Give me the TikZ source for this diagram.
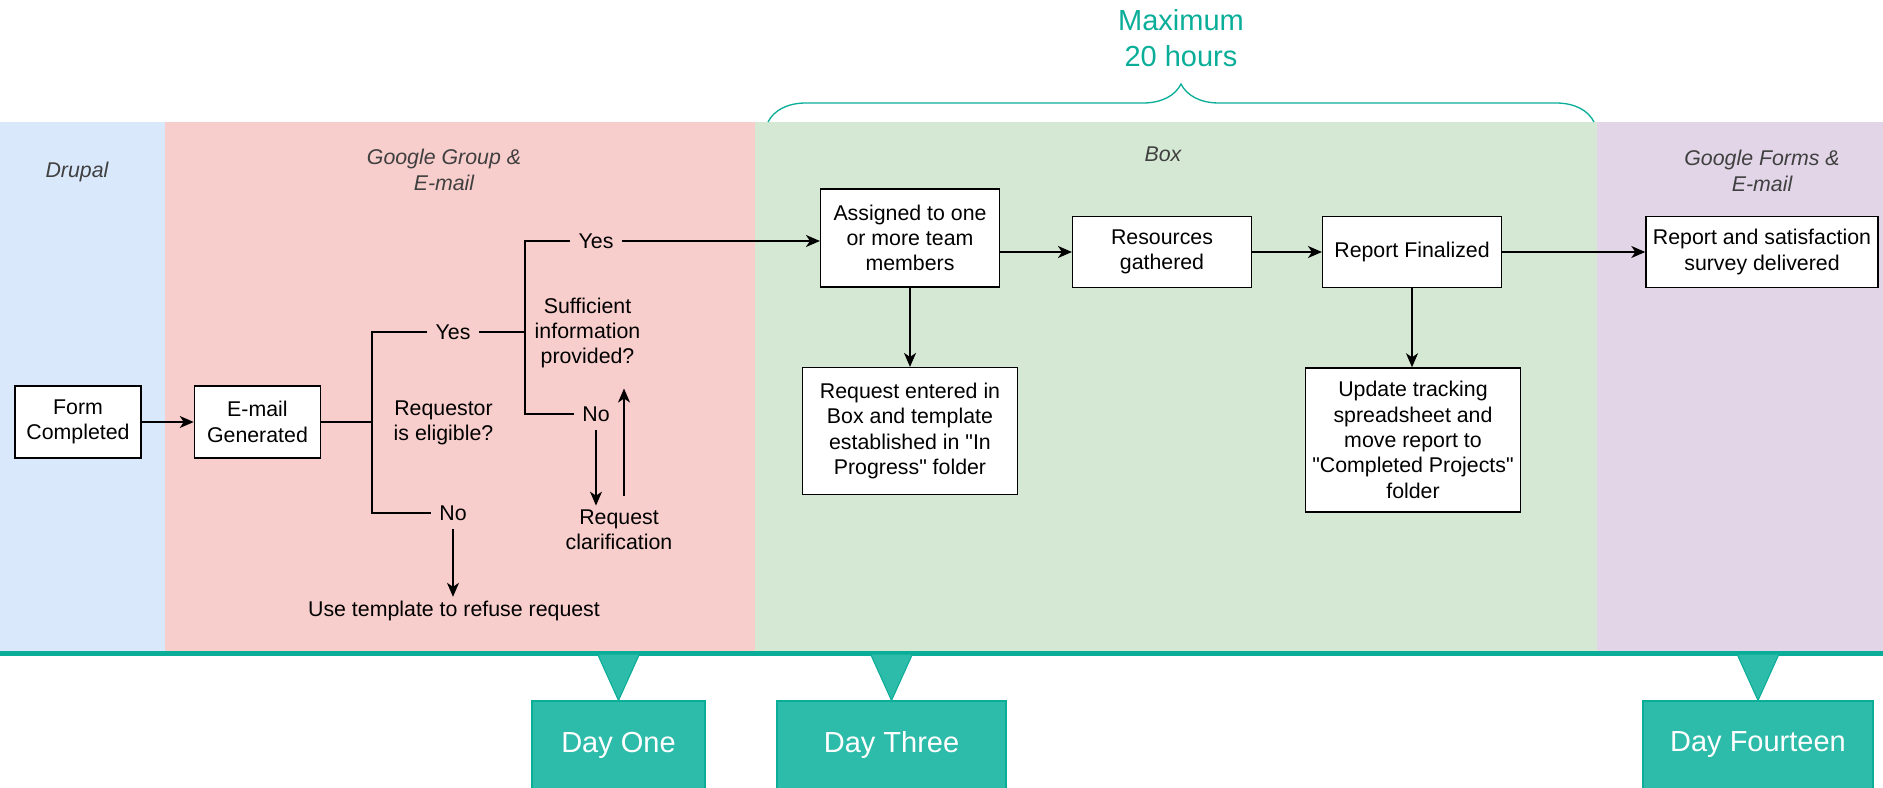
\documentclass[tikz,border=0pt]{standalone}
\usepackage{fontspec}
\setmainfont{Liberation Sans}
\usepackage{xcolor}
\usetikzlibrary{arrows.meta, positioning, decorations.pathreplacing}

\definecolor{laneblue}{HTML}{DAE8FC}
\definecolor{lanered}{HTML}{F8CECC}
\definecolor{lanegreen}{HTML}{D5E8D4}
\definecolor{lanepurple}{HTML}{E1D5E7}
\definecolor{lanetext}{HTML}{404040}
\definecolor{tealline}{HTML}{0AAE98}
\definecolor{tealfill}{HTML}{2DBBAA}

\begin{document}
\begin{tikzpicture}[
        x=0.75pt, y=-0.75pt,
        process/.style={rectangle, draw=black, line width=1.1pt, fill=white, align=center, inner sep=2pt, font=\fontsize{16}{19}\selectfont},
        question/.style={align=center, inner sep=3pt, font=\fontsize{16}{19}\selectfont},
        answer/.style={inner sep=6pt, font=\fontsize{16}{19}\selectfont},
        lanetitle/.style={align=center, text=lanetext, font=\fontsize{16}{19.5}\selectfont\itshape},
        relation/.style={-{Stealth[length=10.5pt, width=9pt, inset=3pt]}, line width=1pt},
        bracket/.style={line width=2.2pt},
        daybox/.style={rectangle, draw=tealline, fill=tealfill, text=white, line width=0.8pt, minimum height=66pt, font=\fontsize{21.75}{26}\selectfont},
        pointer/.style={draw=tealline, fill=tealfill, line width=0.8pt, line join=round}
    ]
        \useasboundingbox (0,0) rectangle (1883,788);

        % Lanes
        \fill[laneblue] (0,122) rectangle (165,652);
        \fill[lanered] (165,122) rectangle (755,652);
        \fill[lanegreen] (755,122) rectangle (1597,652);
        \fill[lanepurple] (1597,122) rectangle (1883,652);
        \coordinate (timeline) at (0,654);
        \draw[tealline, line width=3.75pt] (0,653.5) -- (1883,653.5);

        \node[lanetitle] (drupal) at (77,172) {Drupal};
        \node[lanetitle] (googlegroup) at (444,170) {Google Group \&\\E-mail};
        \node[lanetitle] (boxtitle) at (1163,154) {Box};
        \node[lanetitle] (googleforms) at (1762,171) {Google Forms \&\\E-mail};

        % Time limit
        \draw[tealline, line width=1pt, decorate, decoration={brace, amplitude=28.5pt}] (768,122) -- (1594,122);
        \node[text=tealline, align=center, font=\fontsize{21.75}{27}\selectfont] (maxtime) at (1181,38) {Maximum\\20 hours};

        % Steps
        \node[process, minimum width=94.5pt, minimum height=54pt] (form) at (78,422) {Form\\Completed};
        \node[process, minimum width=94.5pt, minimum height=54pt, right=39pt of form] (email) {E-mail\\Generated};
        \node[question] (eligible) at (443.5,423) {Requestor\\is eligible?};
        \node[answer] (yes1) at (453,332) {Yes};
        \node[answer] (no1) at (453,513) {No};
        \node[question] (sufficient) at (587.5,333) {Sufficient\\information\\provided?};
        \node[answer] (yes2) at (596,241) {Yes};
        \node[answer] (no2) at (596,414) {No};
        \node[question] (clarify) at (619,530) {Request\\clarification};
        \node[question] (refuse) at (454,611) {Use template to refuse request};

        \node[process, minimum width=134pt, minimum height=73.5pt] (assigned) at (910,238) {Assigned to one\\or more team\\members};
        \node[process, minimum width=134pt, minimum height=53pt] (resources) at (1162,252) {Resources\\gathered};
        \node[process, minimum width=134pt, minimum height=53pt] (finalized) at (1412,252) {Report Finalized};
        \node[process, minimum width=174pt, minimum height=53pt] (delivered) at (1762,252) {Report and satisfaction\\survey delivered};
        \node[process, minimum width=161pt, minimum height=95pt] (entered) at (910,431) {Request entered in\\Box and template\\established in \textquotedbl In\\Progress\textquotedbl{} folder};
        \node[process, minimum width=161pt, minimum height=108pt] (tracking) at (1413,440) {Update tracking\\spreadsheet and\\move report to\\\textquotedbl Completed Projects\textquotedbl\\folder};

        % Relations
        \coordinate (fork1) at (372,422);
        \coordinate (fork2) at (525,332);
        \draw[relation] (form) -- (email);
        \draw[bracket] (email.east) -- (fork1);
        \draw[bracket] (yes1.west) -| (fork1) |- (no1.west);
        \draw[bracket] (yes1.east) -- (fork2);
        \draw[bracket] (yes2.west) -| (fork2) |- (no2.west);
        \draw[relation] (no1.south) -- (no1.south |- refuse.north);
        \draw[relation] (no2.south) -- (no2.south |- clarify.north);
        \draw[relation, shorten <=7.5pt, shorten >=12pt] ([xshift=3.75pt]clarify.north) -- ([xshift=3.75pt]clarify.north |- sufficient.south);
        \draw[relation] (yes2.east) -- (yes2.east -| assigned.west);
        \draw[relation] (assigned.east |- resources.west) -- (resources.west);
        \draw[relation] (resources) -- (finalized);
        \draw[relation] (finalized) -- (delivered);
        \draw[relation] (assigned) -- (entered);
        \draw[relation] (finalized.south) -- (finalized.south |- tracking.north);

        % Days
        \node[daybox, minimum width=129.75pt] (dayone) at (618.5,745) {Day One};
        \node[daybox, minimum width=171.75pt] (daythree) at (891.5,745) {Day Three};
        \node[daybox, minimum width=172.5pt] (dayfourteen) at (1758,745) {Day Fourteen};
        \foreach \day in {dayone, daythree, dayfourteen}
            \filldraw[pointer] ([xshift=-15.75pt]\day.north |- timeline) -- (\day.north) -- ([xshift=15.75pt]\day.north |- timeline) -- cycle;
    \end{tikzpicture}
\end{document}
